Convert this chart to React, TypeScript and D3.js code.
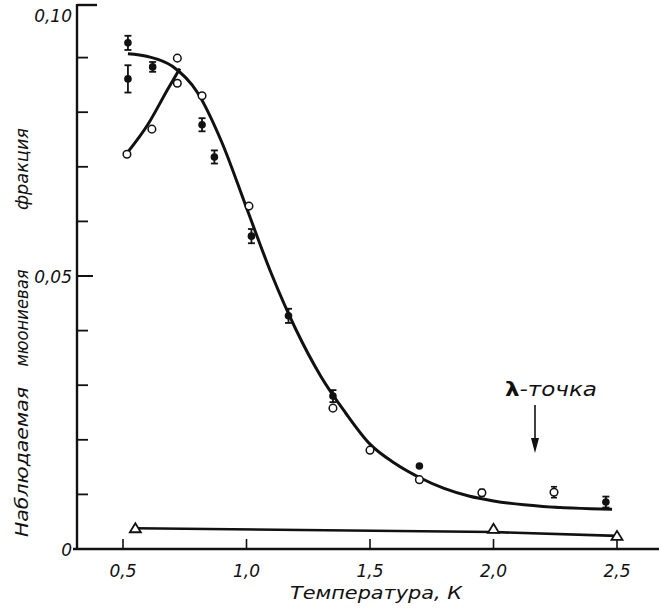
import React from "react";
import * as d3 from "d3";

const W = 659;
const H = 608;

// Filled circles with error bars: [T, value, err]
const filledPts: [number, number, number][] = [
  [0.52, 0.0927, 0.0013],
  [0.52, 0.0861, 0.0025],
  [0.62, 0.0883, 0.0009],
  [0.82, 0.0777, 0.0012],
  [0.87, 0.0718, 0.0012],
  [1.02, 0.0573, 0.0013],
  [1.17, 0.0427, 0.0013],
  [1.35, 0.0280, 0.0011],
  [1.70, 0.0152, 0],
  [2.455, 0.0086, 0.0010],
];

// Open circles: [T, value, err]
const openPts: [number, number, number][] = [
  [0.516, 0.0723, 0],
  [0.617, 0.0769, 0],
  [0.72, 0.0899, 0],
  [0.72, 0.0853, 0],
  [0.82, 0.0830, 0],
  [1.01, 0.0628, 0],
  [1.35, 0.0258, 0],
  [1.50, 0.0181, 0],
  [1.70, 0.0127, 0],
  [1.953, 0.0103, 0.0006],
  [2.245, 0.0104, 0.0010],
];

// Open triangles
const triPts: [number, number][] = [
  [0.55, 0.0038],
  [2.0, 0.0037],
  [2.5, 0.0024],
];

// Main fitted curve
const mainCurve: [number, number][] = [
  [0.52, 0.0907],
  [0.60, 0.0902],
  [0.70, 0.0884],
  [0.80, 0.0837],
  [0.90, 0.0745],
  [1.00, 0.0625],
  [1.10, 0.0505],
  [1.20, 0.0402],
  [1.30, 0.0317],
  [1.40, 0.0250],
  [1.50, 0.0192],
  [1.60, 0.0157],
  [1.70, 0.0131],
  [1.80, 0.0111],
  [1.90, 0.0097],
  [2.00, 0.0088],
  [2.20, 0.0078],
  [2.48, 0.0073],
];

// Low-temperature branch
const branchCurve: [number, number][] = [
  [0.516, 0.0725],
  [0.60, 0.0777],
  [0.68, 0.0841],
  [0.73, 0.0880],
];

// Triangle line
const triLine: [number, number][] = [
  [0.55, 0.0038],
  [2.0, 0.0031],
  [2.5, 0.0024],
];

const xTicks = [0.5, 1.0, 1.5, 2.0, 2.5];
const xTickLabels = ["0,5", "1,0", "1,5", "2,0", "2,5"];
const yMinorTicks = [0.01, 0.02, 0.03, 0.04, 0.06, 0.07, 0.08, 0.09];
const yLabels: [number, string][] = [
  [0.1, "0,10"],
  [0.05, "0,05"],
  [0, "0"],
];
// y-title words: [text, centre y, length]
const yTitleWords: [string, number, number][] = [
  ["Наблюдаемая", 462, 150],
  ["мюониевая", 318, 97],
  ["фракция", 169, 82],
];

const FONT = "'DejaVu Sans', sans-serif";

export default function App() {
  const x = d3.scaleLinear().domain([0.5, 2.5]).range([123, 617]);
  const y = d3.scaleLinear().domain([0, 0.1]).range([549, 3]);
  const axisX = 77;

  const smooth = d3
    .line<[number, number]>()
    .x((d) => x(d[0]))
    .y((d) => y(d[1]))
    .curve(d3.curveMonotoneX);
  const straight = d3
    .line<[number, number]>()
    .x((d) => x(d[0]))
    .y((d) => y(d[1]));

  const stroke = "#111";

  return (
    <svg width={W} height={H} style={{ position: "absolute", left: 0, top: 0, background: "#fff" }}>
      <rect width={W} height={H} fill="#fff" />
      {/* axes */}
      <line x1={axisX} y1={4} x2={axisX} y2={550} stroke={stroke} strokeWidth={2.4} />
      <line x1={axisX - 4} y1={y(0)} x2={W} y2={y(0)} stroke={stroke} strokeWidth={2.4} />
      <line x1={axisX} y1={y(0.1) + 2} x2={97} y2={y(0.1) + 2} stroke={stroke} strokeWidth={2.4} />
      {yMinorTicks.map((t) => (
        <line key={t} x1={axisX} y1={y(t)} x2={axisX + 11} y2={y(t)} stroke={stroke} strokeWidth={1.8} />
      ))}
      <line x1={axisX} y1={y(0.05)} x2={axisX + 16} y2={y(0.05)} stroke={stroke} strokeWidth={2} />
      {yLabels.map(([v, s]) => (
        <text
          key={s}
          x={axisX - 5}
          y={y(v) + (v === 0.1 ? 19 : 7)}
          textAnchor="end"
          fontFamily={FONT}
          fontStyle="italic"
          fontSize={17}
          fill={stroke}
        >
          {s}
        </text>
      ))}
      {xTicks.map((t, i) => (
        <g key={t}>
          <line x1={x(t)} y1={y(0) - 10} x2={x(t)} y2={y(0)} stroke={stroke} strokeWidth={1.6} />
          <text
            x={x(t)}
            y={577}
            textAnchor="middle"
            fontFamily={FONT}
            fontStyle="italic"
            fontSize={17}
            fill={stroke}
          >
            {xTickLabels[i]}
          </text>
        </g>
      ))}
      {/* axis titles */}
      <text
        x={290}
        y={599}
        textLength={172}
        lengthAdjust="spacingAndGlyphs"
        fontFamily={FONT}
        fontStyle="italic"
        fontSize={17}
        fill={stroke}
      >
        Температура, К
      </text>
      {yTitleWords.map(([w, cy, len]) => (
        <text
          key={w}
          transform={`translate(28,${cy + len / 2}) rotate(-90)`}
          textLength={len}
          lengthAdjust="spacingAndGlyphs"
          fontFamily={FONT}
          fontStyle="italic"
          fontSize={17}
          fill={stroke}
        >
          {w}
        </text>
      ))}
      {/* curves */}
      <path d={smooth(mainCurve) || ""} fill="none" stroke={stroke} strokeWidth={3} />
      <path d={smooth(branchCurve) || ""} fill="none" stroke={stroke} strokeWidth={3} />
      <path d={straight(triLine) || ""} fill="none" stroke={stroke} strokeWidth={2.6} />
      {openPts.map(([t, v, e], i) => (
        <g key={"o" + i}>
          {e > 0 && (
            <g>
              <line x1={x(t)} y1={y(v + e)} x2={x(t)} y2={y(v - e)} stroke={stroke} strokeWidth={1.6} />
              <line x1={x(t) - 3} y1={y(v + e)} x2={x(t) + 3} y2={y(v + e)} stroke={stroke} strokeWidth={1.6} />
              <line x1={x(t) - 3} y1={y(v - e)} x2={x(t) + 3} y2={y(v - e)} stroke={stroke} strokeWidth={1.6} />
            </g>
          )}
          <circle cx={x(t)} cy={y(v)} r={3.8} fill="#fff" stroke={stroke} strokeWidth={1.5} />
        </g>
      ))}
      {filledPts.map(([t, v, e], i) => (
        <g key={"f" + i}>
          {e > 0 && (
            <g>
              <line x1={x(t)} y1={y(v + e)} x2={x(t)} y2={y(v - e)} stroke={stroke} strokeWidth={1.8} />
              <line x1={x(t) - 3.5} y1={y(v + e)} x2={x(t) + 3.5} y2={y(v + e)} stroke={stroke} strokeWidth={1.8} />
              <line x1={x(t) - 3.5} y1={y(v - e)} x2={x(t) + 3.5} y2={y(v - e)} stroke={stroke} strokeWidth={1.8} />
            </g>
          )}
          <circle cx={x(t)} cy={y(v)} r={3.8} fill={stroke} />
        </g>
      ))}
      {triPts.map(([t, v], i) => {
        const cx = x(t);
        const cy = y(v);
        const p = `M${cx - 5.5},${cy + 4} L${cx + 5.5},${cy + 4} L${cx},${cy - 5} Z`;
        return <path key={"t" + i} d={p} fill="#fff" stroke={stroke} strokeWidth={1.8} />;
      })}
      {/* lambda point annotation */}
      <text x={505} y={396} fontFamily={FONT} fontSize={19} fill={stroke} textLength={92} lengthAdjust="spacingAndGlyphs">
        <tspan fontWeight="bold">λ</tspan>
        <tspan fontStyle="italic">-точка</tspan>
      </text>
      <line x1={535} y1={405} x2={535} y2={446} stroke={stroke} strokeWidth={1.6} />
      <path d="M531,438 L535,453 L539,438 Z" fill={stroke} />
    </svg>
  );
}
